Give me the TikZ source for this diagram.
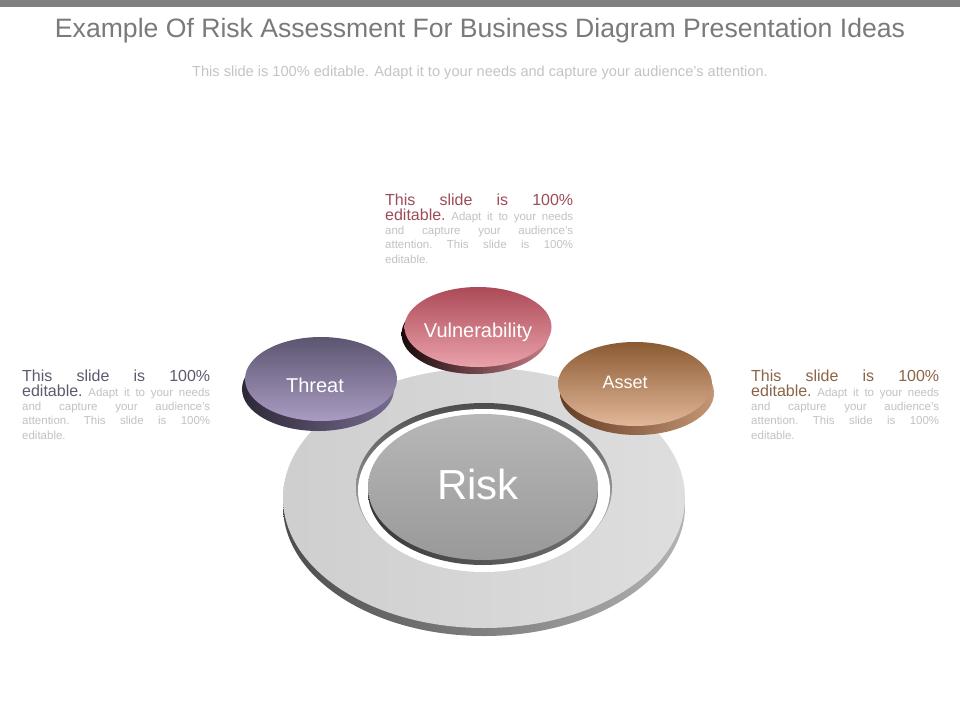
\documentclass[tikz,border=0pt]{standalone}
\usepackage{fontspec}
\setmainfont{Liberation Sans}
\usetikzlibrary{shapes.geometric}
\definecolor{barcol}{HTML}{808080}
\definecolor{titlecol}{HTML}{7A7A7A}
\definecolor{subcol}{HTML}{C4C4C4}
\definecolor{smallcol}{HTML}{C2C2C2}
\definecolor{vulhead}{HTML}{9E4B58}
\definecolor{thrhead}{HTML}{5E5A6E}
\definecolor{asshead}{HTML}{8B6446}
\tikzset{
  disk/.style={ellipse, inner sep=0pt, draw=none},
  disklabel/.style={text=white, inner sep=0pt, font=\fontsize{20}{24}\selectfont},
  infol/.style={anchor=base west, inner sep=0pt, font=\frenchspacing}
}
\newcommand\infoblock[4]{%
  \node[infol, text=#4] (#1a) at (#2,#3) {\makebox[188pt][s]{\fontsize{16}{18}\selectfont This slide is 100\%}};
  \node[infol] (#1b) at (#2,#3+15) {\makebox[188pt][s]{\fontsize{16}{18}\selectfont\color{#4}editable.\fontsize{11.5}{14}\selectfont\color{smallcol}\ Adapt it to your needs}};
  \node[infol, text=smallcol] (#1c) at (#2,#3+29) {\makebox[188pt][s]{\fontsize{11.5}{14}\selectfont and capture your audience's}};
  \node[infol, text=smallcol] (#1d) at (#2,#3+43) {\makebox[188pt][s]{\fontsize{11.5}{14}\selectfont attention.\ This slide is 100\%}};
  \node[infol, text=smallcol] (#1e) at (#2,#3+58) {\fontsize{11.5}{14}\selectfont editable.};
}
\begin{document}
\begin{tikzpicture}[x=1pt,y=-1pt]
\useasboundingbox (0,0) rectangle (960,720);
\fill[white] (0,0) rectangle (960,720);
\node[fill=barcol, minimum width=960pt, minimum height=7pt, inner sep=0pt, anchor=north west] (bar) at (0,0) {};
\node[anchor=base, text=titlecol, inner sep=0pt, font=\fontsize{26.6}{30}\selectfont] (title) at (480,37.5) {Example Of Risk Assessment For Business Diagram Presentation Ideas};
\node[anchor=base, text=subcol, inner sep=0pt, font=\fontsize{14.6}{17}\selectfont] (subtitle) at (480,76) {This slide is 100\% editable. Adapt it to your needs and capture your audience's attention.};

% ring
\node[disk, minimum width=402pt, minimum height=260pt, left color=black!70, right color=black!30] (ringedge) at (484,506) {};
\node[disk, minimum width=402pt, minimum height=260pt, left color=black!19, right color=black!13] (ring) at (484,498) {};
% hole
\node[disk, minimum width=256pt, minimum height=169pt, top color=black!70, bottom color=black!17] (hole) at (484,487.5) {};
\node[disk, minimum width=252pt, minimum height=163pt, fill=white] (gap) at (484,490.5) {};
% risk disk
\node[disk, minimum width=230pt, minimum height=146pt, left color=black!78, right color=black!55] (riskedge) at (483,492) {};
\node[disk, minimum width=230pt, minimum height=146pt, top color=black!28, bottom color=black!40] (risk) at (483,487) {};
\node[text=white, inner sep=0pt, font=\fontsize{42}{48}\selectfont] (risklabel) at (478,484) {Risk};

% threat
\node[disk, minimum width=152pt, minimum height=84pt, left color={rgb,255:red,45;green,40;blue,55}, right color={rgb,255:red,120;green,108;blue,145}] (threatedge) at (318,389) {};
\node[disk, minimum width=152pt, minimum height=84pt, top color={rgb,255:red,92;green,85;blue,112}, bottom color={rgb,255:red,170;green,156;blue,195}] (threat) at (321,379) {};
\node[disklabel] (threatlabel) at (315,385) {Threat};

% asset
\node[disk, minimum width=154pt, minimum height=84pt, left color={rgb,255:red,100;green,62;blue,36}, right color={rgb,255:red,196;green,150;blue,118}] (assetedge) at (637,393) {};
\node[disk, minimum width=154pt, minimum height=84pt, top color={rgb,255:red,139;green,90;blue,50}, bottom color={rgb,255:red,226;green,184;blue,154}] (asset) at (635,384) {};
\node[disklabel, font=\fontsize{18}{22}\selectfont] (assetlabel) at (625,382) {Asset};

% vulnerability
\node[disk, minimum width=147pt, minimum height=80pt, left color={rgb,255:red,25;green,10;blue,12}, right color={rgb,255:red,199;green,126;blue,136}] (vulnedge) at (475,334) {};
\node[disk, minimum width=147pt, minimum height=80pt, top color={rgb,255:red,172;green,74;blue,87}, bottom color={rgb,255:red,234;green,162;blue,171}] (vuln) at (478,327) {};
\node[disklabel] (vulnlabel) at (478,332) {Vulnerability};

% text blocks
\infoblock{top}{385}{205}{vulhead}
\infoblock{left}{22}{381}{thrhead}
\infoblock{right}{751}{381}{asshead}
\end{tikzpicture}
\end{document}
